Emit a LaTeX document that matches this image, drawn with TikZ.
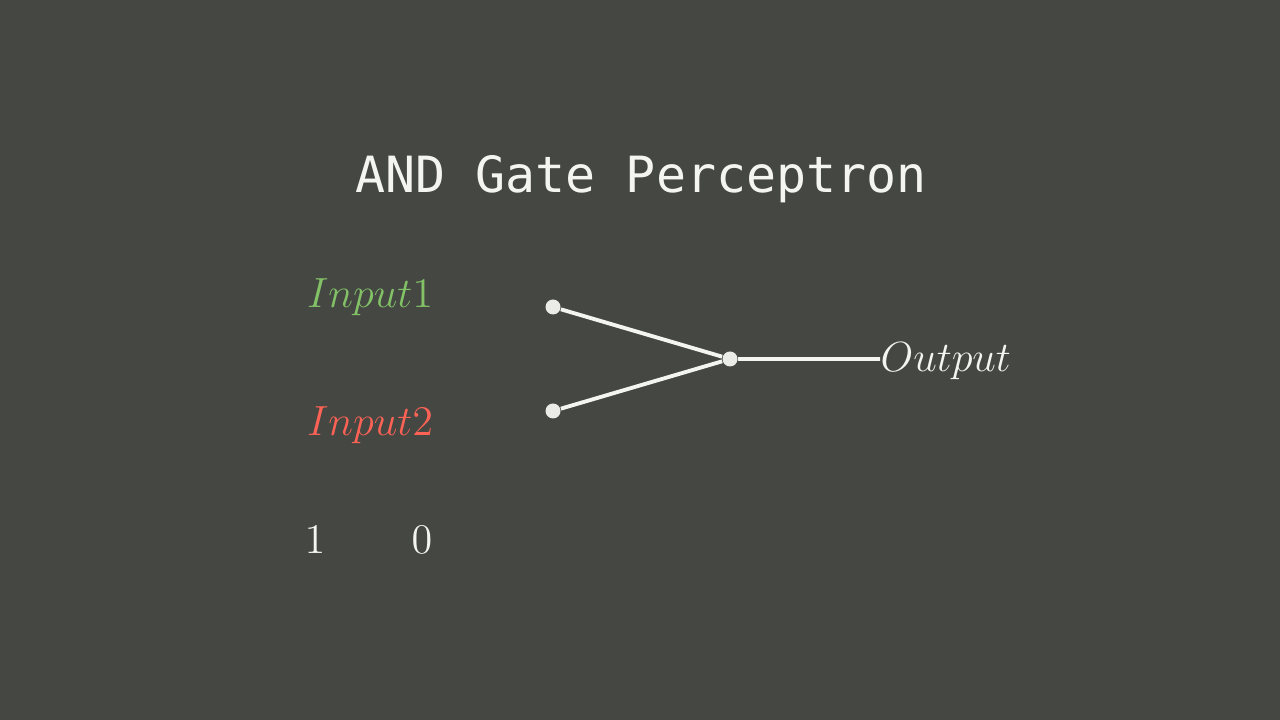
\documentclass[tikz,border=0pt]{standalone}
\usepackage{fontspec}
\setmonofont{DejaVu Sans Mono}
\usetikzlibrary{positioning}
\definecolor{bgcol}{HTML}{444742}
\definecolor{ingreen}{HTML}{83C167}
\definecolor{inred}{HTML}{FC6255}
\definecolor{fg}{HTML}{F4F4F0}
\newcommand*{\lbl}[1]{\fontsize{12.8}{15}\selectfont$#1$}

\begin{document}
\begin{tikzpicture}[x=1cm,y=1cm,
      dot/.style={circle,fill=fg!92!gray,inner sep=0pt,minimum size=0.15cm},
      wire/.style={draw=fg,line width=1.1pt},
      label/.style={inner sep=0pt,text=fg}]
      \fill[bgcol] (0,0) rectangle (12.8,7.2);
      \useasboundingbox (0,0) rectangle (12.8,7.2);
      \node[label,anchor=base] (title) at (6.41,5.27) {\fontsize{14.2}{17}\selectfont\ttfamily AND Gate Perceptron};
      % inputs
      \node[label,anchor=base,text=ingreen] (in_1) at (3.70,4.12) {\lbl{Input1}};
      \node[label,anchor=base,text=inred]   (in_2) at (3.70,2.84) {\lbl{Input2}};
      \node[label,anchor=base] (v_1) at (3.15,1.66) {\lbl{1}};
      \node[label,anchor=base] (v_2) at (4.22,1.66) {\lbl{0}};
      % perceptron
      \node[dot] (x_1) at (5.53,4.13) {};
      \node[dot] (x_2) at (5.53,3.09) {};
      \node[dot] (s)   at (7.30,3.61) {};
      \node[label,anchor=base west] (out) at (8.80,3.48) {\lbl{Output}};
      \coordinate (out_w) at (8.80,3.61);
      \path[wire]
      (x_1) -- (s)
      (x_2) -- (s)
      (s) -- (out_w);
    \end{tikzpicture}
\end{document}
